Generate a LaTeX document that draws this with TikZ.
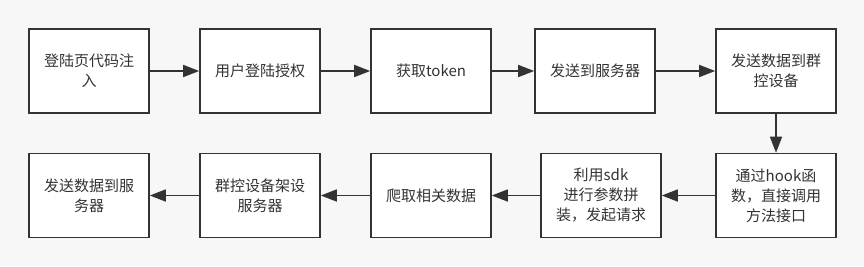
\documentclass[tikz,border=0pt]{standalone}
\usepackage{fontspec}
\setmainfont{Noto Sans CJK SC}
\usetikzlibrary{arrows.meta}
\definecolor{bg}{HTML}{F7F7F7}
\definecolor{ink}{HTML}{333333}
\tikzset{
  box/.style={draw=ink, line width=1.6pt, fill=white, minimum width=120pt, minimum height=84pt, inner sep=0pt, align=center, text=ink, font=\fontsize{15pt}{20pt}\selectfont},
  conn/.style={draw=ink, line width=1.6pt, -{Triangle[length=16pt,width=12pt]}}
}
\begin{document}
\begin{tikzpicture}[x=1pt,y=-1pt]
\fill[bg] (0,0) rectangle (864,266);
\useasboundingbox (0,0) rectangle (864,266);
\node[box] (a1) at (89,71) {登陆页代码注\\入};
\node[box] (a2) at (260,71) {用户登陆授权};
\node[box] (a3) at (431,71) {获取token};
\node[box] (a4) at (595,71) {发送到服务器};
\node[box] (a5) at (776,71) {发送数据到群\\控设备};
\node[box] (b5) at (776,195.5) {通过hook函\\数，直接调用\\方法接口};
\node[box] (b4) at (601,195.5) {利用sdk\\进行参数拼\\装，发起请求};
\node[box] (b3) at (431,195.5) {爬取相关数据};
\node[box] (b2) at (260,195.5) {群控设备架设\\服务器};
\node[box] (b1) at (89,195.5) {发送数据到服\\务器};
\draw[conn] (a1) -- (a2);
\draw[conn] (a2) -- (a3);
\draw[conn] (a3) -- (a4);
\draw[conn] (a4) -- (a5);
\draw[conn] (a5) -- (b5);
\draw[conn] (b5) -- (b4);
\draw[conn] (b4) -- (b3);
\draw[conn] (b3) -- (b2);
\draw[conn] (b2) -- (b1);
\end{tikzpicture}
\end{document}
